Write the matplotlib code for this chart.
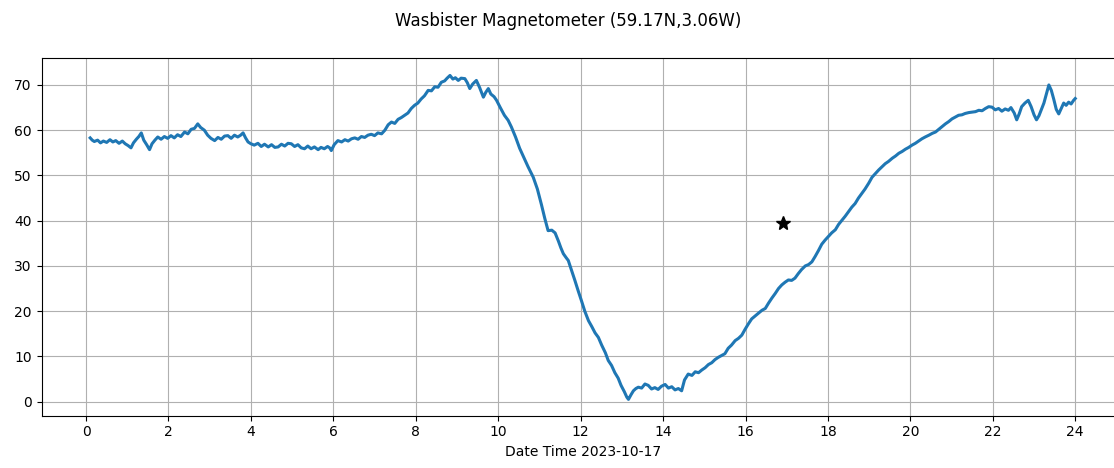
import matplotlib
matplotlib.use("Agg")
import matplotlib.pyplot as plt

TITLE = "Wasbister Magnetometer (59.17N,3.06W)"
XLABEL = "Date Time 2023-10-17"

# hours since midnight
hours = [
    0.10, 0.15, 0.20, 0.28, 0.35, 0.42, 0.50, 0.58, 0.65, 0.72, 0.80, 0.88, 0.95,
    1.02, 1.09, 1.15, 1.22, 1.28, 1.34, 1.40, 1.47, 1.54, 1.60, 1.67, 1.74, 1.82,
    1.90, 1.98, 2.06, 2.14, 2.22, 2.30, 2.39, 2.47, 2.55, 2.63, 2.71, 2.78, 2.87,
    2.95, 3.03, 3.12, 3.20, 3.28, 3.36, 3.44, 3.52, 3.60, 3.68, 3.75, 3.81, 3.87,
    3.93, 4.00, 4.08, 4.17, 4.25, 4.33, 4.42, 4.50, 4.58, 4.66, 4.74, 4.82, 4.90,
    4.98, 5.06, 5.14, 5.22, 5.30, 5.38, 5.46, 5.54, 5.63, 5.70, 5.78, 5.86, 5.91,
    5.95, 6.02, 6.11, 6.20, 6.28, 6.36, 6.44, 6.52, 6.60, 6.68, 6.76, 6.84, 6.92,
    7.00, 7.08, 7.17, 7.25, 7.33, 7.41, 7.49, 7.57, 7.65, 7.73, 7.81, 7.89, 7.97,
    8.05, 8.13, 8.21, 8.30, 8.38, 8.46, 8.54, 8.62, 8.70, 8.76, 8.83, 8.90, 8.96,
    9.03, 9.10, 9.19, 9.25, 9.31, 9.38, 9.47, 9.55, 9.64, 9.70, 9.76, 9.82, 9.90,
    9.96, 10.05, 10.15, 10.24, 10.32, 10.42, 10.52, 10.62, 10.72, 10.85, 10.95,
    11.05, 11.13, 11.21, 11.30, 11.38, 11.46, 11.52, 11.58, 11.65, 11.70, 11.78,
    11.86, 11.94, 12.02, 12.10, 12.19, 12.27, 12.35, 12.43, 12.51, 12.60, 12.67,
    12.75, 12.83, 12.91, 12.98, 13.06, 13.12, 13.16, 13.22, 13.28, 13.34, 13.40,
    13.48, 13.56, 13.64, 13.72, 13.80, 13.88, 13.96, 14.05, 14.13, 14.21, 14.29,
    14.37, 14.45, 14.52, 14.61, 14.70, 14.78, 14.86, 14.94, 15.02, 15.10, 15.18,
    15.26, 15.34, 15.42, 15.50, 15.58, 15.66, 15.75, 15.83, 15.91, 15.99, 16.07,
    16.15, 16.24, 16.32, 16.40, 16.48, 16.56, 16.64, 16.72, 16.80, 16.88, 16.96,
    17.04, 17.12, 17.20, 17.28, 17.36, 17.45, 17.53, 17.61, 17.69, 17.77, 17.85,
    17.93, 18.01, 18.09, 18.18, 18.26, 18.34, 18.42, 18.50, 18.58, 18.66, 18.74,
    18.82, 18.90, 18.99, 19.07, 19.15, 19.23, 19.31, 19.39, 19.47, 19.56, 19.64,
    19.72, 19.80, 19.88, 19.96, 20.04, 20.12, 20.20, 20.28, 20.36, 20.45, 20.53,
    20.61, 20.69, 20.77, 20.85, 20.93, 21.01, 21.09, 21.17, 21.25, 21.33, 21.42,
    21.50, 21.58, 21.66, 21.74, 21.82, 21.90, 21.98, 22.06, 22.14, 22.22, 22.30,
    22.38, 22.44, 22.52, 22.58, 22.64, 22.70, 22.78, 22.86, 22.93, 23.00, 23.06,
    23.12, 23.18, 23.24, 23.30, 23.36, 23.42, 23.48, 23.54, 23.60, 23.66, 23.72,
    23.78, 23.84, 23.90, 23.96, 24.00,
]

field = [
    58.3, 57.8, 57.5, 57.8, 57.2, 57.6, 57.3, 57.9, 57.4, 57.7, 57.1, 57.6, 57.0,
    56.6, 56.1, 57.2, 58.0, 58.6, 59.4, 57.8, 56.8, 55.7, 57.0, 57.8, 58.5, 58.0,
    58.6, 58.2, 58.8, 58.3, 59.0, 58.6, 59.6, 59.2, 60.2, 60.4, 61.4, 60.6, 60.0,
    58.9, 58.2, 57.7, 58.4, 58.0, 58.7, 58.8, 58.2, 58.9, 58.5, 58.9, 59.4, 58.3,
    57.4, 57.0, 56.7, 57.1, 56.4, 56.9, 56.3, 56.8, 56.2, 56.3, 56.9, 56.5, 57.1,
    57.0, 56.4, 56.8, 56.1, 55.9, 56.5, 55.9, 56.3, 55.7, 56.2, 55.9, 56.4, 56.1,
    55.5, 56.8, 57.7, 57.4, 57.9, 57.6, 58.1, 58.3, 58.0, 58.6, 58.4, 58.9, 59.1,
    58.8, 59.4, 59.2, 60.0, 61.2, 61.8, 61.5, 62.4, 62.8, 63.3, 63.8, 64.8, 65.5,
    66.0, 66.9, 67.6, 68.8, 68.7, 69.6, 69.5, 70.6, 70.9, 71.5, 72.1, 71.3, 71.6,
    71.0, 71.5, 71.4, 70.5, 69.2, 70.2, 71.0, 69.4, 67.3, 68.4, 69.2, 68.0, 67.4,
    66.6, 65.0, 63.3, 62.2, 60.7, 58.5, 56.0, 54.0, 52.0, 49.6, 47.0,
    43.5, 40.5, 37.8, 37.9, 37.3, 35.5, 34.0, 32.7, 31.8, 31.2, 29.0,
    26.8, 24.5, 22.3, 20.0, 17.9, 16.6, 15.2, 14.2, 12.5, 10.8, 9.1,
    8.0, 6.4, 5.2, 3.6, 2.2, 1.0, 0.5, 1.5, 2.4, 2.9, 3.2,
    3.0, 3.9, 3.6, 2.8, 3.1, 2.7, 3.4, 3.8, 3.0, 3.3, 2.6,
    2.9, 2.4, 4.8, 6.1, 5.8, 6.6, 6.4, 7.0, 7.5, 8.2, 8.6,
    9.3, 9.8, 10.2, 10.6, 11.8, 12.5, 13.5, 14.0, 14.7, 16.0, 17.2,
    18.3, 19.0, 19.6, 20.2, 20.6, 21.8, 22.9, 23.9, 25.0, 25.8, 26.4,
    26.9, 26.8, 27.3, 28.3, 29.2, 30.0, 30.3, 30.9, 32.1, 33.4, 34.8,
    35.7, 36.5, 37.3, 38.0, 39.2, 40.1, 41.0, 42.0, 43.0, 43.8, 45.0,
    46.0, 47.0, 48.3, 49.6, 50.4, 51.2, 51.9, 52.6, 53.1, 53.8, 54.3,
    54.9, 55.3, 55.8, 56.2, 56.7, 57.1, 57.6, 58.1, 58.5, 58.9, 59.3,
    59.6, 60.2, 60.8, 61.4, 61.9, 62.5, 62.9, 63.3, 63.4, 63.7, 63.9,
    64.0, 64.1, 64.4, 64.3, 64.8, 65.2, 65.1, 64.5, 64.8, 64.2, 64.7,
    64.4, 65.0, 63.8, 62.3, 63.6, 65.2, 66.0, 66.6, 65.2, 63.4, 62.3,
    63.2, 64.6, 66.0, 68.0, 70.0, 68.8, 66.8, 64.6, 63.6, 64.8, 66.0,
    65.5, 66.2, 65.8, 66.6, 67.0,
]

# marker for the current time
star_hour = [16.92]
star_value = [39.4]

fig = plt.figure(figsize=(11.14, 4.68), dpi=100)
ax = fig.add_axes([0.0373, 0.1118, 0.9723, 0.7637])

ax.plot(hours, field, color="#1f77b4", linewidth=2.2)
ax.plot(star_hour, star_value, marker="*", color="black", markersize=10, linestyle="none")

ax.set_xlim(-1.08, 25.2)
ax.set_ylim(-3.1, 75.9)
ax.set_xticks(range(0, 25, 2))
ax.set_yticks(range(0, 71, 10))
ax.grid(True)
ax.set_xlabel(XLABEL)
fig.suptitle(TITLE, x=0.51, y=0.975, fontsize=12)

plt.savefig("out.png", dpi=100)
plt.close(fig)
